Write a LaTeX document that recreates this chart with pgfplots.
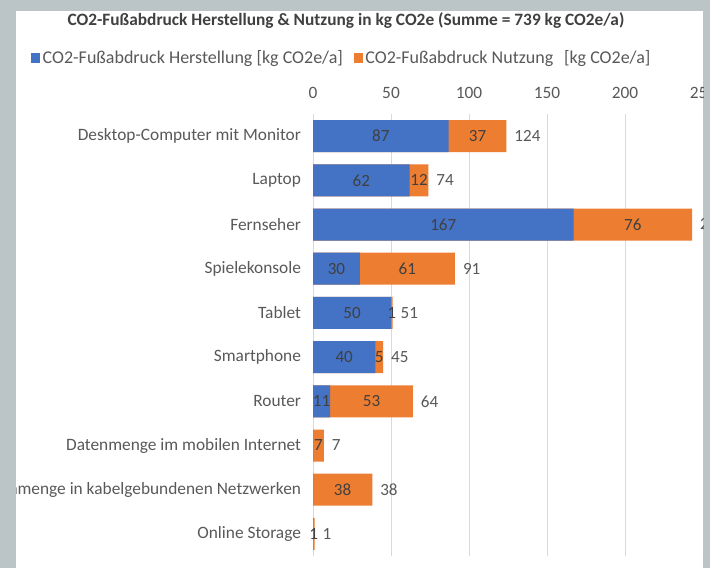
\documentclass[border=0pt]{standalone}
\usepackage{fontspec}
\setmainfont{Carlito}
\usepackage{pgfplots}
\pgfplotsset{compat=1.18}
\definecolor{cblue}{HTML}{4472C4}
\definecolor{corange}{HTML}{ED7D31}
\definecolor{framegrey}{RGB}{187,196,199}
\definecolor{txt}{HTML}{595959}
\definecolor{txtdark}{HTML}{404040}
\definecolor{gridc}{HTML}{D9D9D9}
\begin{document}
\begin{tikzpicture}
\useasboundingbox (0,0) rectangle (532.5pt,-426pt);
\fill[framegrey] (0,0) rectangle (532.5pt,-426pt);
\fill[white] (12pt,-8.25pt) rectangle (527.25pt,-426pt);
\begin{scope}
\clip (12pt,-8.25pt) rectangle (527.25pt,-426pt);
\node[font=\bfseries\fontsize{13}{15}\selectfont, text=txtdark] at (259.5pt,-15.5pt)
  {CO2-Fußabdruck Herstellung \& Nutzung in kg CO2e (Summe = 739 kg CO2e/a)};
\begin{axis}[
  at={(234.75pt,-417pt)}, anchor=south west,
  width=292.5pt, height=331.5pt, scale only axis,
  xmin=0, xmax=250, ymin=-0.5, ymax=9.5, y dir=reverse,
  axis line style={draw=none},
  tick style={draw=none},
  xtick={0,50,100,150,200,250},
  xticklabel pos=upper,
  xmajorgrids, major grid style={gridc, line width=0.75pt},
  ytick={0,1,2,3,4,5,6,7,8,9},
  yticklabels={Desktop-Computer mit Monitor, Laptop, Fernseher, Spielekonsole, Tablet, Smartphone, Router, Datenmenge im mobilen Internet, Datenmenge in kabelgebundenen Netzwerken, Online Storage},
  ticklabel style={font=\fontsize{13}{15}\selectfont, text=txt},
  /pgf/number format/assume math mode=true,
  yticklabel style={xshift=-5.5pt},
  xticklabel style={yshift=8pt},
  legend style={draw=none, fill=none, at={(-0.734,1.1267)}, anchor=west,
    legend columns=2, font=\fontsize{13.5}{15}\selectfont, text=txt,
    /tikz/every even column/.append style={column sep=6pt}},
  legend cell align=left,
  legend image code/.code={\fill[#1] (0pt,-3.4pt) rectangle (6.8pt,3.4pt);},
]
\addlegendimage{fill=cblue,draw=none}
\addlegendimage{fill=corange,draw=none}
\legend{CO2-Fußabdruck Herstellung [kg CO2e/a], CO2-Fußabdruck Nutzung\hspace{0.6em}[kg CO2e/a]}
% totals (Herstellung + Nutzung) drawn orange, Herstellung drawn on top in blue
\addplot[xbar, bar shift=0pt, bar width=24pt, fill=corange, draw=none, forget plot]
  coordinates {(124,0)(74,1)(243,2)(91,3)(51,4)(45,5)(64,6)(7,7)(38,8)(1,9)};
\addplot[xbar, bar shift=0pt, bar width=24pt, fill=cblue, draw=none, forget plot]
  coordinates {(87,0)(62,1)(167,2)(30,3)(50,4)(40,5)(11,6)(0,7)(0,8)(0,9)};
% segment labels
\addplot[draw=none, mark=none, forget plot, nodes near coords, point meta=explicit symbolic,
  every node near coord/.style={anchor=center, font=\fontsize{12.8}{15}\selectfont, text=txtdark}]
  coordinates {(43.5,0)[87] (31,1)[62] (83.5,2)[167] (15,3)[30] (25,4)[50] (20,5)[40] (5.5,6)[11]};
\addplot[draw=none, mark=none, forget plot, nodes near coords, point meta=explicit symbolic,
  every node near coord/.style={anchor=center, font=\fontsize{12.8}{15}\selectfont, text=txtdark}]
  coordinates {(105.5,0)[37] (68,1)[12] (205,2)[76] (60.5,3)[61] (50.5,4)[1] (42.5,5)[5] (37.5,6)[53] (3.5,7)[7] (19,8)[38] (0.5,9)[1]};
\addplot[draw=none, mark=none, forget plot, nodes near coords, point meta=explicit symbolic,
  every node near coord/.style={anchor=west, xshift=2.5pt, font=\fontsize{12.8}{15}\selectfont, text=txt}]
  coordinates {(124,0)[124] (74,1)[74] (243,2)[243] (91,3)[91] (51,4)[51] (45,5)[45] (64,6)[64] (7,7)[7] (38,8)[38] (1,9)[1]};
\end{axis}
\end{scope}
\end{tikzpicture}
\end{document}
